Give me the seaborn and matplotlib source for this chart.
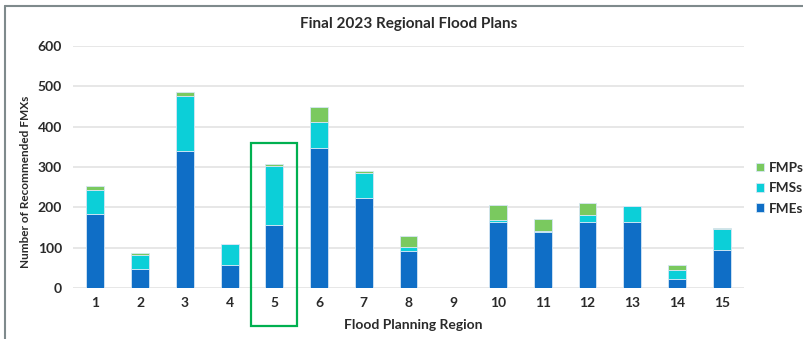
import matplotlib
matplotlib.use("Agg")
import matplotlib.pyplot as plt
import seaborn as sns
import numpy as np
import pandas as pd
from matplotlib.patches import Rectangle
from matplotlib.lines import Line2D

regions = [str(i) for i in range(1, 16)]
fmes = [183, 47, 340, 58, 156, 348, 224, 93, 0, 165, 138, 163, 163, 22, 94]
fmss = [59, 36, 136, 51, 147, 63, 62, 10, 0, 4, 4, 18, 40, 22, 53]
fmps = [11, 5, 9, 1, 5, 37, 4, 26, 0, 36, 29, 29, 0, 14, 2]

title = "Final 2023 Regional Flood Plans"
xlabel = "Flood Planning Region"
ylabel = "Number of Recommended FMXs"

c_fme = "#0F6EC6"
c_fms = "#0CCFD8"
c_fmp = "#7AC95F"
txt = "#2a2a2a"
W = "bold"

sns.set_theme(style="white")
plt.rcParams["font.family"] = ["Lato", "DejaVu Sans"]

fig = plt.figure(figsize=(8.04, 3.39), dpi=100)
ax = fig.add_axes([0.0908, 0.1496, 0.8346, 0.7156])

df = pd.DataFrame({"region": regions, "FMEs": fmes, "FMSs": fmss, "FMPs": fmps})
b1 = np.array(fmes)
b2 = b1 + np.array(fmss)

kw = dict(width=0.4, edgecolor="#d6e6f5", linewidth=0.6, saturation=1, ax=ax, zorder=3)
sns.barplot(data=df, x="region", y="FMEs", color=c_fme, label="FMEs", **kw)
sns.barplot(data=df, x="region", y="FMSs", color=c_fms, bottom=b1, label="FMSs", **kw)
sns.barplot(data=df, x="region", y="FMPs", color=c_fmp, bottom=b2, label="FMPs", **kw)

ax.set_ylim(0, 600)
ax.set_xlim(-0.5, 14.5)
ax.set_yticks(range(0, 601, 100))
ax.yaxis.grid(True, color="#e3e3e3", linewidth=1.2, zorder=0)
ax.set_axisbelow(True)
for s in ax.spines.values():
    s.set_visible(False)
ax.tick_params(axis="both", length=0, labelsize=10, colors=txt)
ax.tick_params(axis="x", pad=6)
ax.tick_params(axis="y", pad=8)
for lab in ax.get_xticklabels() + ax.get_yticklabels():
    lab.set_fontweight(W)
ax.set_xlabel(xlabel, fontsize=10, color=txt, fontweight=W)
ax.set_ylabel(ylabel, fontsize=8.5, color=txt, fontweight=W)
ax.xaxis.set_label_coords(0.507, -0.125)
ax.yaxis.set_label_coords(-0.063, 0.44)
ax.set_title(title, fontsize=11, color=txt, pad=13, fontweight=W)

handles, labels = ax.get_legend_handles_labels()
order = [labels.index(l) for l in ["FMPs", "FMSs", "FMEs"]]
leg = ax.legend([handles[i] for i in order], [labels[i] for i in order],
                loc="center left", bbox_to_anchor=(1.008, 0.413), frameon=False,
                fontsize=9.8, handlelength=0.6, handleheight=0.6, handletextpad=0.3,
                labelspacing=0.62, borderpad=0)
for t in leg.get_texts():
    t.set_fontweight(W)
    t.set_color(txt)

# highlight box around region 5
ax.add_patch(Rectangle((3.49, -93), 1.01, 452, fill=False, edgecolor="#00B050",
                       linewidth=1.6, clip_on=False, zorder=5))

# frame lines (top and left)
fig.add_artist(Line2D([5 / 804, 1], [1 - 6 / 339, 1 - 6 / 339], color="#7f8a8c",
                      linewidth=1.5, transform=fig.transFigure))
fig.add_artist(Line2D([5 / 804, 5 / 804], [0, 1 - 6 / 339], color="#7f8a8c",
                      linewidth=1.5, transform=fig.transFigure))

fig.savefig("out.png", dpi=100, facecolor="white")
